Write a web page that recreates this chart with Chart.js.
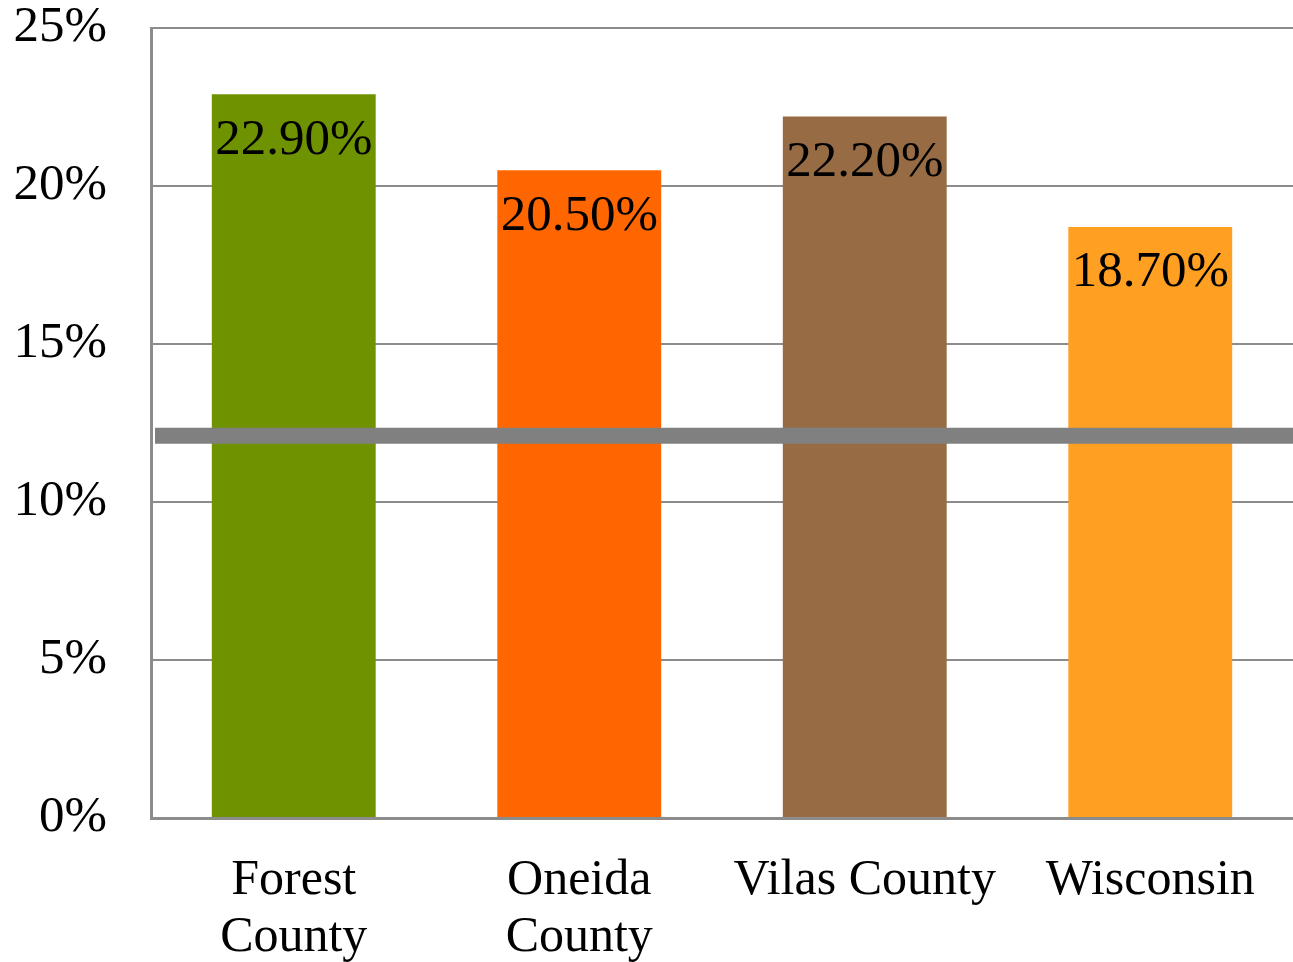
<!DOCTYPE html>
<html>
<head>
<meta charset="utf-8">
<script src="https://cdn.jsdelivr.net/npm/chart.js@4"></script>
<style>
  html, body { margin: 0; padding: 0; background: #fff; }
  #wrap { width: 1293px; height: 962px; }
</style>
</head>
<body>
<div id="wrap"><canvas id="barChart" width="1293" height="962"></canvas></div>
<script>
const categories = [['Forest', 'County'], ['Oneida', 'County'], 'Vilas County', 'Wisconsin'];
const values = [22.9, 20.5, 22.2, 18.7];
const barColors = ['#6f9200', '#ff6600', '#976c44', '#ffa023'];
const benchmark = [12.1];
const yTicks = [0, 5, 10, 15, 20, 25];

const FONT = "'Liberation Serif', 'DejaVu Serif', serif";

/* value labels inside the top of each bar */
const valueLabels = {
  id: 'valueLabels',
  afterDatasetsDraw(chart) {
    const ctx = chart.ctx;
    const meta = chart.getDatasetMeta(0);
    ctx.save();
    ctx.font = '51px ' + FONT;
    ctx.fillStyle = '#000';
    ctx.textAlign = 'center';
    ctx.textBaseline = 'middle';
    meta.data.forEach((bar, i) => {
      ctx.fillText(values[i].toFixed(2) + '%', bar.x, bar.y + 46);
    });
    ctx.restore();
  }
};

/* thick gray benchmark line across the plot */
const benchmarkLine = {
  id: 'benchmarkLine',
  afterDatasetsDraw(chart) {
    const ctx = chart.ctx;
    const area = chart.chartArea;
    const y = chart.scales.y.getPixelForValue(benchmark[0]);
    ctx.save();
    ctx.strokeStyle = '#808080';
    ctx.lineWidth = 16;
    ctx.beginPath();
    ctx.moveTo(area.left + 4, y);
    ctx.lineTo(area.right, y);
    ctx.stroke();
    ctx.restore();
  }
};

new Chart(document.getElementById('barChart'), {
  type: 'bar',
  data: {
    labels: categories,
    datasets: [{
      data: values,
      backgroundColor: barColors,
      categoryPercentage: 1,
      barPercentage: 0.574
    }]
  },
  options: {
    responsive: false,
    animation: false,
    layout: { padding: { top: 28, right: 0, left: 0, bottom: 0 } },
    plugins: {
      legend: { display: false },
      tooltip: { enabled: false }
    },
    scales: {
      x: {
        grid: { display: false, drawTicks: false },
        border: { color: '#8c8c8c', width: 3 },
        ticks: {
          color: '#000',
          font: { family: FONT, size: 50, lineHeight: 1.14 },
          padding: 34,
          maxRotation: 0,
          autoSkip: false
        },
        afterFit(scale) {
          scale.height = 144;
          scale.paddingLeft = 0;
          scale.paddingRight = 0;
        }
      },
      y: {
        min: 0,
        max: 25,
        afterBuildTicks(scale) { scale.ticks = yTicks.map(v => ({ value: v })); },
        grid: { color: '#8c8c8c', lineWidth: 2, drawTicks: false },
        border: { color: '#8c8c8c', width: 3 },
        ticks: {
          color: '#000',
          font: { family: FONT, size: 51 },
          padding: 44,
          callback: v => v + '%'
        },
        afterFit(scale) {
          scale.width = 151;
          scale.paddingTop = 0;
          scale.paddingBottom = 0;
        }
      }
    }
  },
  plugins: [valueLabels, benchmarkLine]
});
</script>
</body>
</html>
